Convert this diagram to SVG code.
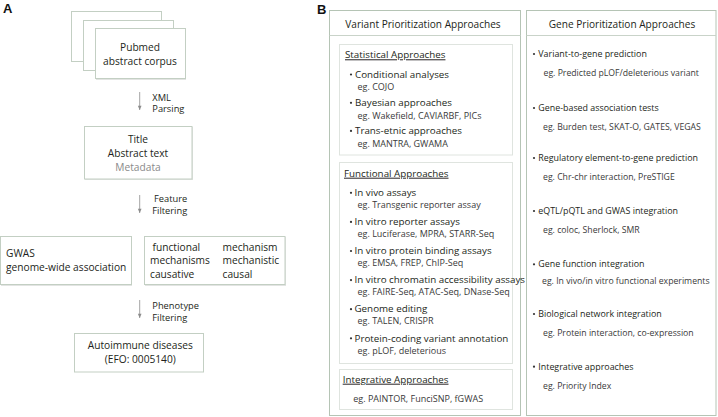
<svg xmlns="http://www.w3.org/2000/svg" width="718" height="417" viewBox="0 0 718 417">
<defs>
<style>
text{font-family:"Open Sans","Noto Sans",sans-serif;fill:#231f20}
.lbl{font-family:"Liberation Sans",Arial,sans-serif;font-weight:bold;font-size:13px;fill:#111}
.a{font-size:10.2px}
.ac{font-size:10.2px;text-anchor:middle}
.sm{font-size:9.3px}
.grey{fill:#8a8a8a}
.hd{font-size:10.1px;text-anchor:middle}
.sh{font-size:9.8px;text-decoration:underline}
.it{font-size:9.8px}
.eg{font-size:9px;fill:#3a3a3a}
.rit{font-size:8.9px}
.reg{font-size:8.7px;fill:#3a3a3a}
.box{fill:#fff;stroke:#c3cfc3;stroke-width:1}
.shadow{fill:#e2e4e2;stroke:none}
.panel{fill:#fff;stroke:#b5c4b5;stroke-width:1}
.inner{fill:#fff;stroke:#dfe4df;stroke-width:1}
.conn{stroke:#8c8c8c;stroke-width:0.8;fill:none}
.bul{fill:#333}
</style>
<marker id="ah" viewBox="0 0 6 6" refX="5.5" refY="3" markerWidth="5" markerHeight="5" orient="auto" markerUnits="userSpaceOnUse">
<path d="M0.5 0.8 L5.5 3 L0.5 5.2 Z" fill="#8c8c8c"/>
</marker>
</defs>
<rect width="718" height="417" fill="#fff"/>

<!-- Panel A -->
<text class="lbl" x="3" y="13">A</text>

<g id="pubmed">
<rect class="box" x="71.5" y="11.5" width="90" height="50"/>
<rect class="box" x="83.5" y="20.5" width="90" height="50"/>
<rect class="shadow" x="96" y="29" width="90" height="51"/>
<rect class="box" x="95.5" y="28.5" width="90" height="50"/>
<text class="ac" x="140" y="51">Pubmed</text>
<text class="ac" x="140" y="65">abstract corpus</text>
</g>

<g id="doc">
<rect class="shadow" x="85" y="127" width="108" height="53"/>
<rect class="box" x="84.5" y="126.5" width="107.5" height="52.5"/>
<text class="ac" x="138" y="143.3">Title</text>
<text class="ac" x="138" y="157.3">Abstract text</text>
<text class="ac grey" x="138" y="170.5">Metadata</text>
</g>

<g id="gwas">
<rect class="shadow" x="1" y="237" width="131" height="49"/>
<rect class="box" x="0.5" y="236.5" width="131" height="48"/>
<text class="a" x="6" y="256.7">GWAS</text>
<text class="a" x="6" y="270.7">genome-wide association</text>
</g>

<g id="keywords">
<rect class="shadow" x="145" y="237" width="141" height="49"/>
<rect class="box" x="144.5" y="236.5" width="140.5" height="48"/>
<text class="a" x="152.5" y="250.7">functional</text>
<text class="a" x="150" y="264.3">mechanisms</text>
<text class="a" x="150" y="277.7">causative</text>
<text class="a" x="222.5" y="250.7">mechanism</text>
<text class="a" x="222.5" y="264.3">mechanistic</text>
<text class="a" x="222.5" y="277.7">causal</text>
</g>

<g id="autoimmune">
<rect class="box" x="74.5" y="333.5" width="129" height="38.5"/>
<text class="ac" x="140.3" y="349.3">Autoimmune diseases</text>
<text class="ac" x="140.3" y="363.3">(EFO: 0005140)</text>
</g>

<g id="connectors">
<line class="conn" x1="139.7" y1="92" x2="139.7" y2="110" marker-end="url(#ah)"/>
<text class="sm" x="152.3" y="100.7">XML</text>
<text class="sm" x="152.3" y="112.3">Parsing</text>
<line class="conn" x1="139.7" y1="195" x2="139.7" y2="213" marker-end="url(#ah)"/>
<text class="sm" x="154" y="202">Feature</text>
<text class="sm" x="152.3" y="214">Filtering</text>
<line class="conn" x1="139.7" y1="300" x2="139.7" y2="318" marker-end="url(#ah)"/>
<text class="sm" x="152.3" y="309.3">Phenotype</text>
<text class="sm" x="152.3" y="321">Filtering</text>
</g>

<!-- Panel B -->
<text class="lbl" x="317" y="14">B</text>

<g id="variant-panel">
<rect class="panel" x="329.5" y="10.5" width="191" height="405"/>
<line x1="329.5" y1="35.5" x2="520.5" y2="35.5" stroke="#c9d3c9" stroke-width="1"/>
<text class="hd" x="423" y="28.3">Variant Prioritization Approaches</text>
</g>

<g id="statistical">
<rect class="inner" x="339.5" y="44.5" width="173" height="110.5"/>
<text class="sh" x="345" y="58.3">Statistical Approaches</text>
<circle class="bul" cx="351" cy="74.5" r="1.1"/>
<text class="it" x="355" y="77.7">Conditional analyses</text>
<text class="eg" x="357.5" y="90.2">eg. COJO</text>
<circle class="bul" cx="351" cy="102.8" r="1.1"/>
<text class="it" x="355" y="106">Bayesian approaches</text>
<text class="eg" x="357.5" y="118.5">eg. Wakefield, CAVIARBF, PICs</text>
<circle class="bul" cx="351" cy="130.9" r="1.1"/>
<text class="it" x="355" y="134.1">Trans-etnic approaches</text>
<text class="eg" x="357.5" y="146.6">eg. MANTRA, GWAMA</text>
</g>

<g id="functional">
<rect class="inner" x="339.5" y="162.5" width="173" height="201"/>
<text class="sh" x="344" y="176.7">Functional Approaches</text>
<circle class="bul" cx="351" cy="192.8" r="1.1"/>
<text class="it" x="354.5" y="196">In vivo assays</text>
<text class="eg" x="357.5" y="208">eg. Transgenic reporter assay</text>
<circle class="bul" cx="351" cy="221.9" r="1.1"/>
<text class="it" x="354.5" y="225.1">In vitro reporter assays</text>
<text class="eg" x="357.5" y="237.1">eg. Luciferase, MPRA, STARR-Seq</text>
<circle class="bul" cx="351" cy="251" r="1.1"/>
<text class="it" x="354.5" y="254.2">In vitro protein binding assays</text>
<text class="eg" x="357.5" y="266.2">eg. EMSA, FREP, ChIP-Seq</text>
<circle class="bul" cx="351" cy="280.1" r="1.1"/>
<text class="it" x="354.5" y="283.3">In vitro chromatin accessibility assays</text>
<text class="eg" x="357.5" y="295.3">eg. FAIRE-Seq, ATAC-Seq, DNase-Seq</text>
<circle class="bul" cx="351" cy="309.2" r="1.1"/>
<text class="it" x="354.5" y="312.4">Genome editing</text>
<text class="eg" x="357.5" y="324.4">eg. TALEN, CRISPR</text>
<circle class="bul" cx="351" cy="338.3" r="1.1"/>
<text class="it" x="354.5" y="341.5">Protein-coding variant annotation</text>
<text class="eg" x="357.5" y="353.5">eg. pLOF, deleterious</text>
</g>

<g id="integrative">
<rect class="inner" x="339.5" y="369.5" width="173" height="40"/>
<text class="sh" x="342.7" y="382.7">Integrative Approaches</text>
<text class="eg" x="353.3" y="402.3">eg. PAINTOR, FunciSNP, fGWAS</text>
</g>

<g id="gene-panel">
<rect class="panel" x="526.5" y="10.5" width="189.5" height="405"/>
<line x1="526.5" y1="35.5" x2="716" y2="35.5" stroke="#c9d3c9" stroke-width="1"/>
<text class="hd" x="622" y="28.3">Gene Prioritization Approaches</text>
<circle class="bul" cx="534" cy="54" r="1.1"/>
<text class="rit" x="538.3" y="57">Variant-to-gene prediction</text>
<text class="reg" x="543.5" y="76">eg. Predicted pLOF/deleterious variant</text>
<circle class="bul" cx="534" cy="108" r="1.1"/>
<text class="rit" x="538.3" y="111">Gene-based association tests</text>
<text class="reg" x="543" y="130">eg. Burden test, SKAT-O, GATES, VEGAS</text>
<circle class="bul" cx="534" cy="158" r="1.1"/>
<text class="rit" x="538.3" y="161">Regulatory element-to-gene prediction</text>
<text class="reg" x="543" y="180">eg. Chr-chr interaction, PreSTIGE</text>
<circle class="bul" cx="534" cy="211" r="1.1"/>
<text class="rit" x="538.3" y="214">eQTL/pQTL and GWAS integration</text>
<text class="reg" x="543" y="233.3">eg. coloc, Sherlock, SMR</text>
<circle class="bul" cx="534" cy="264.3" r="1.1"/>
<text class="rit" x="538.3" y="267.3">Gene function integration</text>
<text class="reg" x="542" y="284">eg. In vivo/in vitro functional experiments</text>
<circle class="bul" cx="534" cy="314" r="1.1"/>
<text class="rit" x="538.3" y="317">Biological network integration</text>
<text class="reg" x="543" y="336.3">eg. Protein interaction, co-expression</text>
<circle class="bul" cx="534" cy="366.7" r="1.1"/>
<text class="rit" x="538.3" y="369.7">Integrative approaches</text>
<text class="reg" x="543" y="388.7">eg. Priority Index</text>
</g>
</svg>
